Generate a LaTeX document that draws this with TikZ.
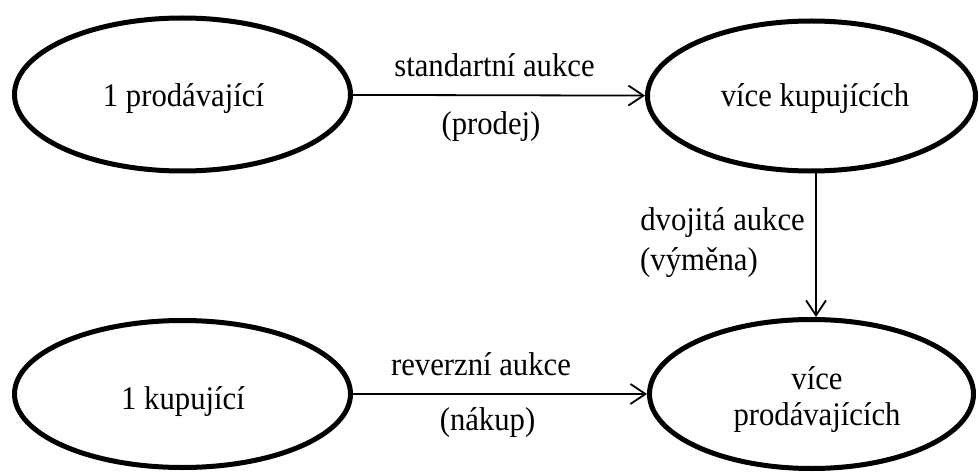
\documentclass[tikz,border=0pt]{standalone}
\usepackage{fontspec}
\setmainfont{Liberation Serif}
\newfontfamily\diagfont[FakeStretch=0.93]{Liberation Serif}
\usetikzlibrary{shapes.geometric,arrows.meta}
\begin{document}
\begin{tikzpicture}[x=1pt,y=-1pt,
  party/.style={ellipse,draw,line width=5pt,inner sep=0pt},
  flow/.style={line width=1.8pt,
    -{Straight Barb[length=15pt,width=20pt,line width=1.8pt]}},
  lbl/.style={inner sep=0pt,font=\diagfont\fontsize{33}{36}\selectfont}]
\useasboundingbox (0,0) rectangle (979,473);

% market participants
\node[party,minimum width=336pt,minimum height=153pt] (seller) at (182.5,94.5) {};
\node[party,minimum width=328pt,minimum height=150pt] (buyers) at (811.5,96) {};
\node[party,minimum width=336pt,minimum height=147pt] (buyer) at (182.5,394) {};
\node[party,minimum width=324pt,minimum height=149pt] (sellers) at (811.5,394) {};

\node[lbl,anchor=base] (sellerTxt) at (183.5,107) {1 prodávající};
\node[lbl,anchor=base] (buyersTxt) at (815,107) {více kupujících};
\node[lbl,anchor=base] (buyerTxt) at (183,409) {1 kupující};
\node[lbl,anchor=base] (sellersTxtA) at (817,389) {více};
\node[lbl,anchor=base] (sellersTxtB) at (817,425) {prodávajících};

% auction types
\draw[flow] (seller) -- (buyers);
\draw[flow] ([xshift=4.5pt]buyers.south) -- ([xshift=4.5pt]sellers.north);
\draw[flow] (buyer) -- (sellers);

% labels
\node[lbl,anchor=base] (std) at (494.5,77) {standartní aukce};
\node[lbl,anchor=base] (sale) at (491,135) {(prodej)};
\node[lbl,anchor=base east] (dbl) at (805,230) {dvojitá aukce};
\node[lbl,anchor=base west] (swap) at (640,270) {(výměna)};
\node[lbl,anchor=base] (rev) at (481,375) {reverzní aukce};
\node[lbl,anchor=base] (buy) at (487.5,430) {(nákup)};
\end{tikzpicture}
\end{document}
